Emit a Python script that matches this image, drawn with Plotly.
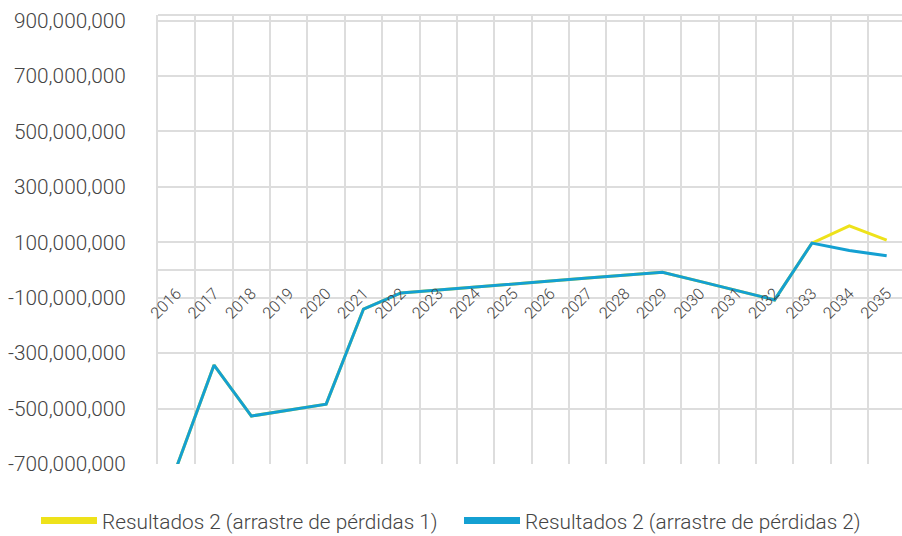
import plotly.graph_objects as go

years = [str(y) for y in range(2016, 2036)]
resultados_1 = [-710e6, -343e6, -527e6, -505e6, -484e6, -141e6, -83e6, -72e6, -62e6, -51e6,
                -40e6, -29e6, -19e6, -8e6, -41e6, -75e6, -108e6, 97e6, 159e6, 108e6]
resultados_2 = [-710e6, -343e6, -527e6, -505e6, -484e6, -141e6, -83e6, -72e6, -62e6, -51e6,
                -40e6, -29e6, -19e6, -8e6, -41e6, -75e6, -108e6, 97e6, 70e6, 51e6]
names = ["Resultados 2 (arrastre de pérdidas 1)", "Resultados 2 (arrastre de pérdidas 2)"]
y_ticks = [900e6, 700e6, 500e6, 300e6, 100e6, -100e6, -300e6, -500e6, -700e6]
y_tick_text = ["900,000,000", "700,000,000", "500,000,000", "300,000,000", "100,000,000",
               "-100,000,000", "-300,000,000", "-500,000,000", "-700,000,000"]

YELLOW = "#EEE21A"
BLUE = "#14A0D2"
GRID = "#DDDDDD"
TEXT = "#444444"
FONT = "Roboto"

fig = go.Figure()
fig.add_trace(go.Scatter(x=years, y=resultados_1, mode="lines", name=names[0],
                         line=dict(color=YELLOW, width=3), showlegend=False))
fig.add_trace(go.Scatter(x=years, y=resultados_2, mode="lines", name=names[1],
                         line=dict(color=BLUE, width=3), showlegend=False))
# legend-only entries with thick swatches
fig.add_trace(go.Scatter(x=[None], y=[None], mode="lines", name=names[0],
                         line=dict(color=YELLOW, width=7)))
fig.add_trace(go.Scatter(x=[None], y=[None], mode="lines", name=names[1],
                         line=dict(color=BLUE, width=7)))

W, H = 902, 536
plot_top, plot_bottom, plot_left = 15, 464, 158
plot_w, plot_h = W - plot_left, plot_bottom - plot_top
axis_y = 280
fig.update_layout(
    width=W, height=H,
    margin=dict(l=plot_left, r=0, t=plot_top, b=H - plot_bottom, pad=0, autoexpand=False),
    paper_bgcolor="white", plot_bgcolor="white",
    font=dict(family=FONT, color=TEXT, size=19, weight=300),
    xaxis=dict(
        type="category", range=[-0.5, 19.41], tickson="boundaries", automargin=False,
        showgrid=True, gridcolor=GRID, gridwidth=2,
        anchor="free", position=(plot_bottom - axis_y) / plot_h,
        tickangle=-45, ticks="", showline=False, zeroline=False,
        tickfont=dict(size=16, color=TEXT, weight=300),
    ),
    yaxis=dict(
        range=[-700e6, 920e6], tickvals=y_ticks, ticktext=y_tick_text, automargin=False,
        showgrid=True, gridcolor=GRID, gridwidth=2,
        zeroline=True, zerolinecolor=GRID, zerolinewidth=2,
        showline=True, linecolor=GRID, linewidth=2,
        ticks="outside", ticklen=26, tickcolor="rgba(0,0,0,0)",
        tickfont=dict(size=20.8, color=TEXT, weight=300),
    ),
    legend=dict(orientation="h",
                x=(36 - plot_left) / plot_w, xanchor="left",
                y=(plot_bottom - 521) / plot_h, yanchor="middle",
                font=dict(size=20.8, color=TEXT, weight=300), itemwidth=56, entrywidth=352,
                traceorder="normal"),
    shapes=[dict(type="line", xref="paper", yref="paper", x0=0, x1=1, y0=1, y1=1,
                 line=dict(color=GRID, width=2), layer="below")],
)

fig.write_html("out.html", config={"displayModeBar": False},
               post_script="document.body.style.margin='0';document.body.style.overflow='hidden';")
